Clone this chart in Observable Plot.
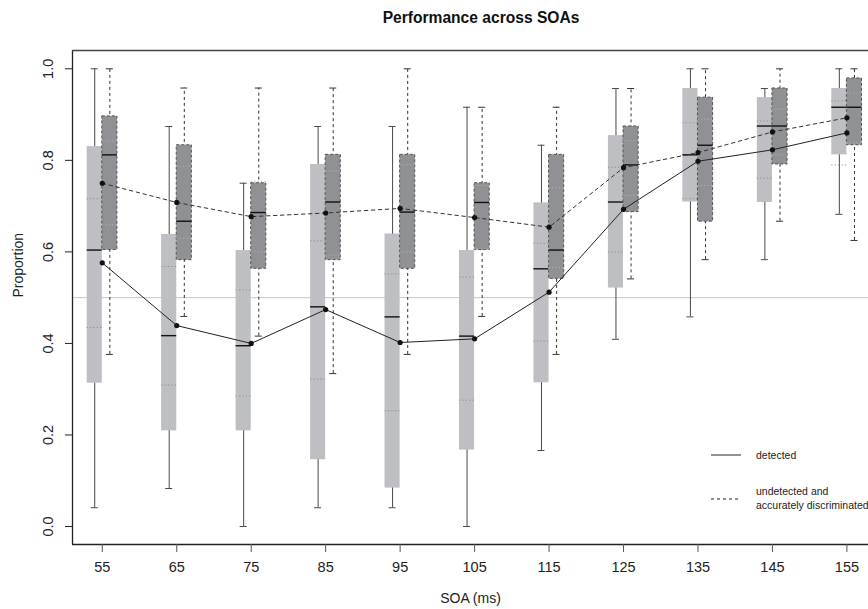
<!DOCTYPE html>
<html>
<head>
<meta charset="utf-8">
<script src="https://cdn.jsdelivr.net/npm/d3@7"></script>
<script src="https://cdn.jsdelivr.net/npm/@observablehq/plot@0.6"></script>
<style>
  body { margin: 0; background: #fff; font-family: "Liberation Sans", Arial, sans-serif; }
  #wrap { position: relative; width: 868px; height: 609px; overflow: hidden; }
  #title { position: absolute; left: 0; width: 962px; top: 9px; text-align: center; font-weight: bold; font-size: 15.6px; color: #111; }
  #legend { position: absolute; left: 711px; top: 446px; font-size: 10.5px; color: #222; }
  .lg { position: absolute; white-space: nowrap; }
</style>
</head>
<body>
<div id="wrap">
  <div id="title">Performance across SOAs</div>
  <div id="chart"></div>
  <div id="legend">
    <div class="lg" style="left:0;top:0;"><svg width="31" height="18"><line x1="0" x2="30" y1="9" y2="9" stroke="#222" stroke-width="1"/></svg></div>
    <div class="lg" style="left:45px;top:2px;line-height:14px;">detected</div>
    <div class="lg" style="left:0;top:44px;"><svg width="31" height="18"><line x1="0" x2="30" y1="9" y2="9" stroke="#222" stroke-width="1" stroke-dasharray="3,3"/></svg></div>
    <div class="lg" style="left:45px;top:39px;line-height:13.6px;">undetected and<br>accurately discriminated</div>
  </div>
</div>
<script>
const soa = [55, 65, 75, 85, 95, 105, 115, 125, 135, 145, 155];

// detected (light boxes)
const detWhiskerHigh = [1.0, 0.874, 0.75, 0.874, 0.874, 0.916, 0.833, 0.957, 1.0, 0.957, 1.0];
const detQ3          = [0.83, 0.638, 0.603, 0.791, 0.639, 0.603, 0.707, 0.854, 0.957, 0.937, 0.957];
const detDotHigh     = [0.716, 0.568, 0.517, 0.624, 0.552, 0.545, 0.619, 0.785, 0.882, 0.886, 0.93];
const detMedian      = [0.604, 0.417, 0.395, 0.48, 0.458, 0.416, 0.563, 0.709, 0.812, 0.875, 0.916];
const detDotLow      = [0.435, 0.309, 0.285, 0.322, 0.253, 0.276, 0.405, 0.6, 0.716, 0.761, 0.79];
const detQ1          = [0.313, 0.209, 0.209, 0.146, 0.084, 0.167, 0.314, 0.521, 0.709, 0.708, 0.812];
const detWhiskerLow  = [0.041, 0.083, 0.0, 0.041, 0.041, 0.0, 0.166, 0.409, 0.458, 0.583, 0.682];
const detMean        = [0.576, 0.439, 0.40, 0.474, 0.402, 0.41, 0.512, 0.693, 0.798, 0.823, 0.86];

// undetected and accurately discriminated (dark boxes)
const undWhiskerHigh = [1.0, 0.958, 0.958, 0.958, 1.0, 0.916, 0.916, 0.957, 1.0, 1.0, 1.0];
const undQ3          = [0.896, 0.833, 0.75, 0.812, 0.812, 0.75, 0.812, 0.874, 0.937, 0.957, 0.979];
const undDotHigh     = [0.842, 0.787, 0.754, 0.777, 0.79, 0.745, 0.74, 0.843, 0.89, 0.912, 0.947];
const undMedian      = [0.812, 0.667, 0.686, 0.709, 0.687, 0.708, 0.604, 0.79, 0.833, 0.875, 0.916];
const undDotLow      = [0.659, 0.63, 0.6, 0.593, 0.6, 0.607, 0.566, 0.723, 0.745, 0.812, 0.838];
const undQ1          = [0.604, 0.582, 0.563, 0.582, 0.563, 0.604, 0.541, 0.687, 0.666, 0.791, 0.833];
const undWhiskerLow  = [0.376, 0.459, 0.416, 0.334, 0.376, 0.459, 0.376, 0.541, 0.583, 0.667, 0.625];
const undMean        = [0.75, 0.708, 0.677, 0.685, 0.695, 0.675, 0.654, 0.784, 0.817, 0.862, 0.893];

const yTicks = [0, 0.2, 0.4, 0.6, 0.8, 1.0];
const xDomain = [51, 157.9];
const yDomain = [-0.0393, 1.04];
const boxW = 2.03;   // box width in SOA units
const capW = 0.47;   // whisker cap half-width in SOA units

function rows(wh, q3, dh, med, dl, q1, wl, mean, side) {
  return soa.map((s, i) => {
    const x1 = side < 0 ? s - boxW : s;
    const x2 = side < 0 ? s : s + boxW;
    const xc = (x1 + x2) / 2;
    return {soa: s, x1, x2, xc, wh: wh[i], q3: q3[i], dh: dh[i], med: med[i], dl: dl[i], q1: q1[i], wl: wl[i], mean: mean[i]};
  });
}
const det = rows(detWhiskerHigh, detQ3, detDotHigh, detMedian, detDotLow, detQ1, detWhiskerLow, detMean, -1);
const und = rows(undWhiskerHigh, undQ3, undDotHigh, undMedian, undDotLow, undQ1, undWhiskerLow, undMean, 1);

function boxMarks(data, opts) {
  return [
    Plot.ruleX(data, {x: "xc", y1: "wl", y2: "wh", stroke: opts.whisker, strokeWidth: 1, strokeDasharray: opts.whiskerDash}),
    Plot.ruleY(data, {y: "wh", x1: d => d.xc - capW, x2: d => d.xc + capW, stroke: opts.whisker, strokeWidth: 1}),
    Plot.ruleY(data, {y: "wl", x1: d => d.xc - capW, x2: d => d.xc + capW, stroke: opts.whisker, strokeWidth: 1}),
    Plot.rect(data, {x1: "x1", x2: "x2", y1: "q1", y2: "q3", fill: opts.fill, stroke: opts.boxStroke, strokeWidth: 1, strokeDasharray: opts.boxDash}),
    Plot.ruleY(data, {y: "dh", x1: "x1", x2: "x2", stroke: opts.dot, strokeWidth: 1, strokeDasharray: "1.2,2.2"}),
    Plot.ruleY(data, {y: "dl", x1: "x1", x2: "x2", stroke: opts.dot, strokeWidth: 1, strokeDasharray: "1.2,2.2"}),
    Plot.ruleY(data, {y: "med", x1: "x1", x2: "x2", stroke: "#111", strokeWidth: 1.4})
  ];
}

const chart = Plot.plot({
  width: 868,
  height: 609,
  marginLeft: 72,
  marginRight: 0,
  marginTop: 50,
  marginBottom: 65,
  style: {fontFamily: "Liberation Sans, Arial, sans-serif", fontSize: "14px", color: "#222", background: "#fff"},
  x: {domain: xDomain, label: null},
  y: {domain: yDomain, label: null},
  marks: [
    Plot.ruleY([0.5], {stroke: "#c6c6c6", strokeWidth: 1}),
    ...boxMarks(det, {fill: "#bebfc3", whisker: "#4a4a4a", whiskerDash: null, boxStroke: "none", boxDash: null, dot: "#8e8e8e"}),
    ...boxMarks(und, {fill: "#909195", whisker: "#333", whiskerDash: "3,3", boxStroke: "#555", boxDash: "3,2", dot: "#b4b4b4"}),
    Plot.line(det, {x: "soa", y: "mean", stroke: "#222", strokeWidth: 1}),
    Plot.line(und, {x: "soa", y: "mean", stroke: "#333", strokeWidth: 1, strokeDasharray: "3.5,3.5"}),
    Plot.dot(det, {x: "soa", y: "mean", r: 2.6, fill: "#111", stroke: "none"}),
    Plot.dot(und, {x: "soa", y: "mean", r: 2.6, fill: "#111", stroke: "none"}),
    Plot.ruleX([xDomain[0]], {stroke: "#222", strokeWidth: 1.3}),
    Plot.ruleY([yDomain[0]], {stroke: "#222", strokeWidth: 1.3}),
    Plot.ruleY([yDomain[1]], {stroke: "#444", strokeWidth: 1.3}),
    Plot.axisX({ticks: soa, tickSize: 8, tickPadding: 9, tickFormat: d => String(d), stroke: "#555", fontSize: 14.5}),
    Plot.axisY({ticks: yTicks, tickSize: 7, tickPadding: 13, tickRotate: -90, tickFormat: d => d.toFixed(1), stroke: "#222", fontSize: 14.5}),
    Plot.text(["SOA (ms)"], {frameAnchor: "bottom", dy: 58, fontSize: 14, fill: "#222"}),
    Plot.text(["Proportion"], {frameAnchor: "left", dx: -54, rotate: -90, fontSize: 14, fill: "#222"})
  ]
});
document.getElementById("chart").appendChild(chart);
</script>
</body>
</html>
